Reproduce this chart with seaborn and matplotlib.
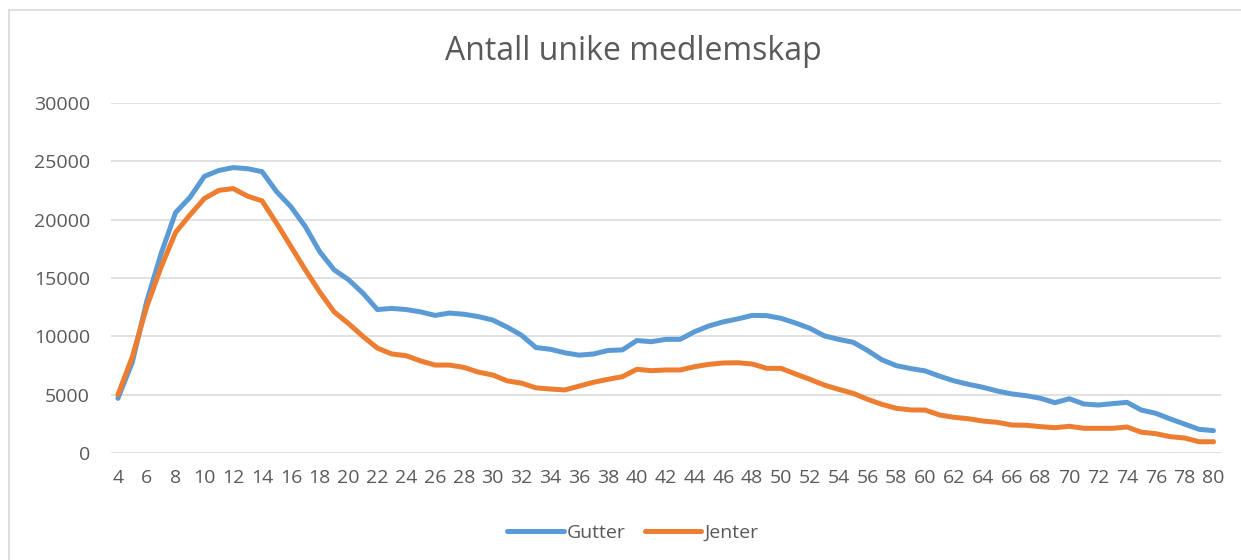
import pandas as pd
import numpy as np
import seaborn as sns
import matplotlib.pyplot as plt
from matplotlib.patches import Rectangle

# Data (age 4..80)
ages = list(range(4, 81))
gutter = [4700, 7800, 13000, 17100, 20600, 21900, 23700, 24200, 24450, 24350,
          24100, 22400, 21100, 19400, 17250, 15700, 14850, 13700, 12300, 12400,
          12300, 12100, 11800, 12000, 11900, 11700, 11400, 10800, 10100, 9050,
          8900, 8600, 8400, 8500, 8800, 8850, 9650, 9550, 9750, 9750,
          10400, 10900, 11250, 11500, 11800, 11780, 11550, 11150, 10700, 10050,
          9750, 9500, 8800, 8000, 7500, 7250, 7050, 6600, 6200, 5900,
          5650, 5330, 5080, 4930, 4710, 4330, 4670, 4220, 4130, 4250,
          4360, 3700, 3420, 2940, 2500, 2050, 1940]
jenter = [5000, 8250, 12550, 15950, 18900, 20400, 21800, 22500, 22650, 22000,
          21600, 19700, 17700, 15700, 13800, 12100, 11100, 10000, 9000, 8500,
          8350, 7900, 7550, 7550, 7350, 6950, 6700, 6200, 6000, 5600,
          5500, 5420, 5750, 6080, 6330, 6560, 7190, 7070, 7130, 7130,
          7410, 7610, 7730, 7750, 7640, 7270, 7270, 6790, 6330, 5840,
          5470, 5130, 4620, 4190, 3850, 3710, 3700, 3280, 3080, 2960,
          2760, 2650, 2420, 2400, 2280, 2190, 2310, 2140, 2140, 2140,
          2250, 1800, 1680, 1420, 1310, 990, 990]
series_names = ['Gutter', 'Jenter']
y_ticks = [0, 5000, 10000, 15000, 20000, 25000, 30000]
x_ticks = list(range(4, 81, 2))

df = pd.DataFrame({
    'Alder': ages + ages,
    'Antall': gutter + jenter,
    'Kjonn': [series_names[0]] * len(ages) + [series_names[1]] * len(ages),
})

sns.set_style('white')
plt.rcParams['font.family'] = ['Open Sans', 'DejaVu Sans']
grey = '#595959'
colors = ['#5B9BD5', '#ED7D31']

fig = plt.figure(figsize=(12.41, 5.6), dpi=100)
ax = fig.add_axes([110.7 / 1241, 1 - 453.3 / 560, 1110 / 1241, 350.6 / 560])

# chart frame (runs off the right and bottom edge)
fig.patches.append(Rectangle((9 / 1241, -0.1), 1.2, 1 - 10 / 560 + 0.1,
                             transform=fig.transFigure, fill=False,
                             edgecolor='#D9D9D9', linewidth=1.2))

sns.lineplot(data=df, x='Alder', y='Antall', hue='Kjonn', ax=ax,
             palette=colors, linewidth=3.6, legend=False)

ax.set_xlim(3.5, 80.5)
ax.set_ylim(0, 30000)
ax.set_yticks(y_ticks)
ax.set_xticks(x_ticks)
ax.set_xticklabels([str(a) for a in x_ticks])
ax.yaxis.grid(True, color='#D9D9D9', linewidth=1.1)
ax.set_axisbelow(True)
for s in ax.spines.values():
    s.set_visible(False)
ax.tick_params(axis='both', length=0, labelsize=14, labelcolor=grey)
ax.tick_params(axis='y', pad=15)
ax.tick_params(axis='x', pad=11)
ax.set_xlabel('')
ax.set_ylabel('')

fig.text(633 / 1241, 1 - 51 / 560, 'Antall unike medlemskap', ha='center',
         va='center', fontsize=23, color=grey)

handles = [plt.Line2D([], [], color=c, linewidth=3.6) for c in colors]
leg = fig.legend(handles, series_names, loc='center', ncol=2,
                 bbox_to_anchor=(633 / 1241, 1 - 533 / 560), frameon=False,
                 fontsize=14, handlelength=2.9, handletextpad=0.15,
                 columnspacing=1.0)
for t in leg.get_texts():
    t.set_color(grey)

fig.savefig('out.png', dpi=100)
